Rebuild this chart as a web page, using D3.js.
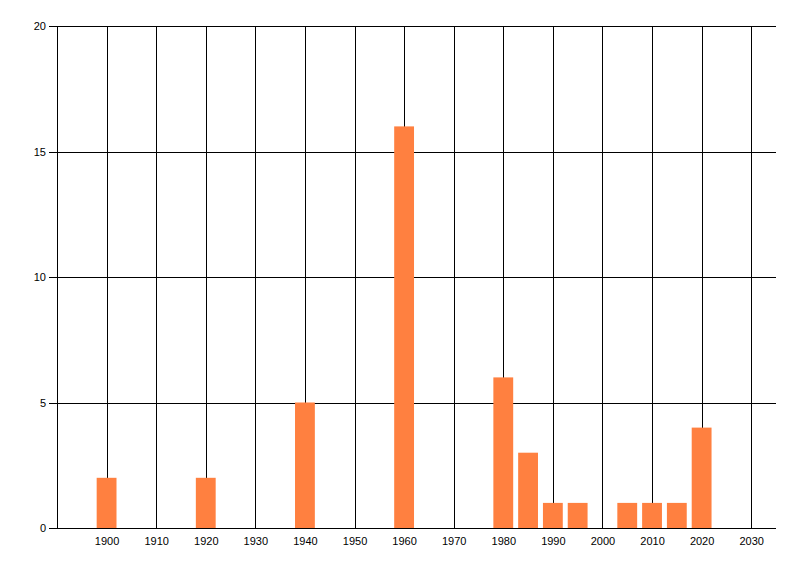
<!DOCTYPE html>
<html lang="en">
	<head>
		<meta charset="utf-8">
		<title>Bars by year</title>
		<script type="text/javascript" src="https://cdn.jsdelivr.net/npm/d3@7"></script>
		<style type="text/css">
			body { margin: 0; background: #fff; }
			text {
				font-family: "Liberation Sans", Arial, sans-serif;
				font-size: 11px;
				fill: #000;
			}
			.grid line, .axis line, .axis path { stroke: #000; stroke-width: 1px; shape-rendering: crispEdges; }
		</style>
	</head>
	<body>
		<script type="text/javascript">

			// Data
			var years = [1900, 1920, 1940, 1960, 1980, 1985, 1990, 1995, 2005, 2010, 2015, 2020];
			var counts = [2, 2, 5, 16, 6, 3, 1, 1, 1, 1, 1, 4];
			var xTicks = [1900, 1910, 1920, 1930, 1940, 1950, 1960, 1970, 1980, 1990, 2000, 2010, 2020, 2030];
			var yTicks = [0, 5, 10, 15, 20];

			var w = 800;
			var h = 576;
			var plotLeft = 57, plotRight = 776, plotTop = 26, plotBottom = 528;
			var barYears = 4; // bar width in years

			var svg = d3.select("body")
						.append("svg")
						.attr("width", w)
						.attr("height", h);

			var x = d3.scaleLinear().domain([1890, 2035]).range([plotLeft, plotRight]);
			var y = d3.scaleLinear().domain([0, 20]).range([plotBottom, plotTop]);

			// vertical grid lines + labels
			var xAxis = svg.append("g")
				.attr("class", "grid")
				.attr("transform", "translate(0," + plotBottom + ")")
				.call(d3.axisBottom(x)
					.tickValues(xTicks)
					.tickFormat(d3.format("d"))
					.tickSize(-(plotBottom - plotTop))
					.tickSizeOuter(0));
			xAxis.select(".domain").remove();
			xAxis.selectAll("text")
				.attr("y", 17)
				.attr("dy", 0);

			// horizontal grid lines
			svg.append("g")
				.attr("class", "grid")
				.attr("transform", "translate(" + plotLeft + ",0)")
				.call(d3.axisRight(y)
					.tickValues(yTicks)
					.tickSize(plotRight - plotLeft)
					.tickFormat(""))
				.select(".domain").remove();

			// left axis with outside ticks
			var yAxis = svg.append("g")
				.attr("class", "axis")
				.attr("transform", "translate(" + plotLeft + ",0)")
				.call(d3.axisLeft(y)
					.tickValues(yTicks)
					.tickSize(8)
					.tickSizeOuter(0)
					.tickPadding(3));
			yAxis.selectAll("text").attr("dy", "0.35em");

			// bars
			svg.selectAll("rect.bar")
				.data(years)
				.enter()
				.append("rect")
				.attr("class", "bar")
				.attr("x", function(d) { return x(d - barYears / 2); })
				.attr("width", function(d) { return x(d + barYears / 2) - x(d - barYears / 2); })
				.attr("y", function(d, i) { return y(counts[i]); })
				.attr("height", function(d, i) { return y(0) - y(counts[i]); })
				.attr("fill", "#ff8040");

			// baseline drawn above bars
			svg.append("line")
				.attr("x1", plotLeft - 8)
				.attr("x2", plotRight)
				.attr("y1", y(0))
				.attr("y2", y(0))
				.attr("stroke", "#000")
				.attr("shape-rendering", "crispEdges");

		</script>
	</body>
</html>
